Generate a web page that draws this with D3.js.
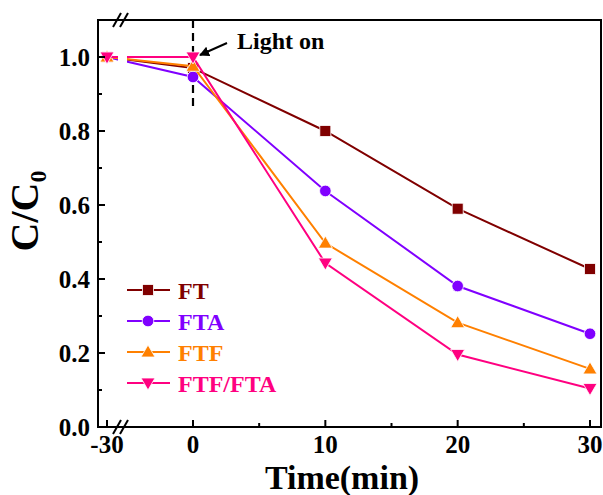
<!DOCTYPE html>
<html><head><meta charset="utf-8">
<script src="https://cdn.jsdelivr.net/npm/d3@7"></script>
<style>body{margin:0;background:#fff}svg{display:block}text{font-family:"Liberation Serif","Times New Roman",serif;font-weight:bold}</style>
</head><body><svg id="c" width="603" height="495"></svg>
<script>
const times = [-30, 0, 10, 20, 30];
const seriesNames = ["FT", "FTA", "FTF", "FTF/FTA"];
const ftValues = [1.0, 0.970, 0.800, 0.590, 0.427];
const ftaValues = [1.0, 0.946, 0.638, 0.381, 0.252];
const ftfValues = [1.0, 0.975, 0.497, 0.282, 0.157];
const ftfFtaValues = [1.0, 1.0, 0.443, 0.196, 0.104];
const xTicks = [-30, 0, 10, 20, 30];
const xMinorTicks = [5, 15, 25];
const yTicks = [0, 0.2, 0.4, 0.6, 0.8, 1.0];
const yMinorTicks = [0.1, 0.3, 0.5, 0.7, 0.9];
const colors = ["#800000", "#8000ff", "#ff8000", "#ff0080"];
const shapes = ["square", "circle", "triUp", "triDown"];
const allValues = [ftValues, ftaValues, ftfValues, ftfFtaValues];

const svg = d3.select("#c");
const L = 98, R = 601, T = 20, B = 427;
// broken axis: -30 segment compressed, then linear 0..30
const x = d3.scaleLinear().domain([-31.5, -30, 0, 30, 30.8]).range([L, 107, 193, 590, R]);
const y = d3.scaleLinear().domain([0, 1.1]).range([B, T]);

// clip with gap for the axis break
const defs = svg.append("defs");
const cp = defs.append("clipPath").attr("id", "gap");
cp.append("rect").attr("x", L).attr("y", T).attr("width", 118 - L).attr("height", B - T);
cp.append("rect").attr("x", 127).attr("y", T).attr("width", R - 127).attr("height", B - T);

// dashed light-on line
svg.append("line").attr("x1", x(0)).attr("x2", x(0)).attr("y1", T).attr("y2", 107)
  .attr("stroke", "#000").attr("stroke-width", 2.2).attr("stroke-dasharray", "8,5");

function marker(g, shape, cx, cy, color) {
  const s = 5.5;
  let el;
  if (shape === "square") el = g.append("rect").attr("x", cx - s).attr("y", cy - s).attr("width", 2 * s).attr("height", 2 * s);
  else if (shape === "circle") el = g.append("circle").attr("cx", cx).attr("cy", cy).attr("r", 5.8);
  else if (shape === "triUp") el = g.append("path").attr("d", `M${cx},${cy - 7}L${cx + 7},${cy + 5}L${cx - 7},${cy + 5}Z`);
  else el = g.append("path").attr("d", `M${cx},${cy + 7}L${cx + 7},${cy - 5}L${cx - 7},${cy - 5}Z`);
  el.attr("fill", color).attr("stroke", "#fff").attr("stroke-width", 0.8);
}

const line = d3.line().x((d, i) => x(times[i])).y(d => y(d));
allValues.forEach((vals, k) => {
  const g = svg.append("g");
  g.append("path").attr("d", line(vals)).attr("fill", "none").attr("stroke", colors[k])
    .attr("stroke-width", 2).attr("clip-path", "url(#gap)");
  vals.forEach((v, i) => marker(g, shapes[k], x(times[i]), y(v), colors[k]));
});

// frame
svg.append("rect").attr("x", L).attr("y", T).attr("width", R - L).attr("height", B - T)
  .attr("fill", "none").attr("stroke", "#000").attr("stroke-width", 2);

// ticks (inward)
const axG = svg.append("g").attr("stroke", "#000").attr("stroke-width", 2);
xTicks.forEach(t => axG.append("line").attr("x1", x(t)).attr("x2", x(t)).attr("y1", B).attr("y2", B - 7));
xMinorTicks.forEach(t => axG.append("line").attr("x1", x(t)).attr("x2", x(t)).attr("y1", B).attr("y2", B - 4));
yTicks.forEach(t => axG.append("line").attr("x1", L).attr("x2", L + 7).attr("y1", y(t)).attr("y2", y(t)));
yMinorTicks.forEach(t => axG.append("line").attr("x1", L).attr("x2", L + 4).attr("y1", y(t)).attr("y2", y(t)));

// break marks
[[T], [B]].forEach(([yy]) => {
  [0, 7].forEach(dx => {
    svg.append("line").attr("x1", 113 + dx).attr("y1", yy + 7).attr("x2", 121 + dx).attr("y2", yy - 7)
      .attr("stroke", "#000").attr("stroke-width", 2);
  });
});

// tick labels
svg.append("g").selectAll("text").data(xTicks).join("text")
  .attr("x", d => x(d)).attr("y", 453).attr("text-anchor", "middle")
  .attr("font-size", 25).text(d => d);
svg.append("g").selectAll("text").data(yTicks).join("text")
  .attr("x", 90).attr("y", d => y(d) + 9).attr("text-anchor", "end")
  .attr("font-size", 25).text(d => d.toFixed(1));

// axis titles
svg.append("text").attr("x", 342).attr("y", 488.5).attr("text-anchor", "middle")
  .attr("font-size", 34).text("Time(min)");
const yl = svg.append("text").attr("transform", "translate(38,211) rotate(-90)")
  .attr("text-anchor", "middle").attr("font-size", 40);
yl.append("tspan").text("C/C");
yl.append("tspan").attr("font-size", 24).attr("dy", 8).text("0");

// Light on annotation
svg.append("text").attr("x", 237).attr("y", 49).attr("font-size", 24).text("Light on");
defs.append("marker").attr("id", "arr").attr("viewBox", "0 0 10 10").attr("refX", 9).attr("refY", 5)
  .attr("markerWidth", 5).attr("markerHeight", 5).attr("orient", "auto")
  .append("path").attr("d", "M0,0L10,5L0,10Z").attr("fill", "#000");
svg.append("line").attr("x1", 227).attr("y1", 43).attr("x2", 200).attr("y2", 55)
  .attr("stroke", "#000").attr("stroke-width", 2).attr("marker-end", "url(#arr)");

// legend
const rowsY = [290, 321, 352, 383];
seriesNames.forEach((name, k) => {
  const g = svg.append("g");
  g.append("line").attr("x1", 127).attr("x2", 170).attr("y1", rowsY[k]).attr("y2", rowsY[k])
    .attr("stroke", colors[k]).attr("stroke-width", 2);
  marker(g, shapes[k], 148, rowsY[k], colors[k]);
  g.append("text").attr("x", 178).attr("y", rowsY[k] + 9).attr("font-size", 24)
    .attr("fill", colors[k]).text(name);
});
</script></body></html>
